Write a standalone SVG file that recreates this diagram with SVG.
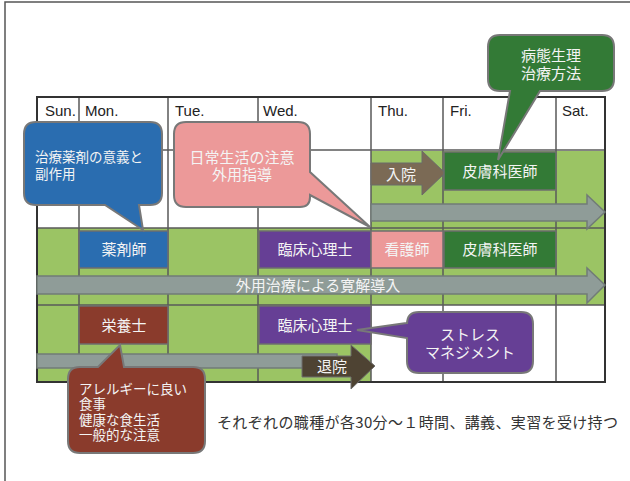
<svg xmlns="http://www.w3.org/2000/svg" width="630" height="481" viewBox="0 0 630 481">
<style>
.hd{font-family:"Liberation Sans",Arial,sans-serif;font-size:15px;fill:#222}
.jt{font-family:"Noto Sans CJK JP","Noto Sans",sans-serif;fill:#f4f4f4}
.c{text-anchor:middle}
.grid{stroke:#5a5a5a;stroke-width:1.5;fill:none}
.box{stroke:#6e6e6e;stroke-width:1.5}
.co{stroke:#787878;stroke-width:2}
.garr{fill:#8f9c98;stroke:#717b77;stroke-width:1.5}
</style>
<rect x="0" y="0" width="630" height="481" fill="#ffffff"/>
<path d="M5,481 V2 H630" fill="none" stroke="#555" stroke-width="1.5"/>

<g id="table">
<rect x="37" y="97" width="568" height="285" fill="#ffffff"/>
<rect x="371" y="151" width="234" height="77" fill="#9bc464"/>
<rect x="37" y="228" width="568" height="77" fill="#9bc464"/>
<rect x="37" y="305" width="334" height="77" fill="#9bc464"/>
<path class="grid" d="M79,97 V382 M168,97 V382 M258,97 V382 M371,97 V382 M443,97 V382 M556,97 V382 M37,150 H605 M37,228 H605 M37,305 H605"/>
<rect x="37" y="97" width="568" height="285" fill="none" stroke="#333" stroke-width="2"/>
<text class="hd" x="45" y="116">Sun.</text>
<text class="hd" x="85" y="116">Mon.</text>
<text class="hd" x="175" y="116">Tue.</text>
<text class="hd" x="263" y="116">Wed.</text>
<text class="hd" x="378" y="116">Thu.</text>
<text class="hd" x="450" y="116">Fri.</text>
<text class="hd" x="562" y="116">Sat.</text>
</g>

<g id="arrows">
<path class="garr" d="M371,204 H587 V195 L605,212 L587,229 V221 H371 Z"/>
<path class="garr" d="M37,276 H587 V268 L605,285 L587,303 V294 H37 Z"/>
<text class="jt c" x="318" y="291" font-size="15">外用治療による寛解導入</text>
<rect class="garr" x="37" y="354" width="300" height="14"/>
</g>

<g id="nyuin">
<path d="M371,163 H422 V151 L445,173 L422,195 V185 H371 Z" fill="#7b6a55" stroke="#6a6a6a" stroke-width="1"/>
<text class="jt c" x="401" y="180" font-size="15">入院</text>
</g>
<g id="taiin">
<path d="M302,356 H351 V345 L375,366 L351,389 V377 H302 Z" fill="#4e4333" stroke="#6f6f6f" stroke-width="1"/>
<text class="jt c" x="332" y="372" font-size="15">退院</text>
</g>

<g id="hifuka1">
<rect class="box" x="444" y="152" width="112" height="38" fill="#337a36"/>
<text class="jt c" x="500" y="177" font-size="15">皮膚科医師</text>
</g>
<g id="yakuzaishi">
<rect class="box" x="79" y="231" width="89" height="37" fill="#2a6db0"/>
<text class="jt c" x="124" y="255" font-size="15">薬剤師</text>
</g>
<g id="rinsho1">
<rect class="box" x="259" y="231" width="112" height="37" fill="#663f95"/>
<text class="jt c" x="315" y="255" font-size="15">臨床心理士</text>
</g>
<g id="kangoshi">
<rect class="box" x="371" y="231" width="72" height="37" fill="#ec9999"/>
<text class="jt c" x="407" y="255" font-size="15">看護師</text>
</g>
<g id="hifuka2">
<rect class="box" x="444" y="231" width="112" height="37" fill="#337a36"/>
<text class="jt c" x="500" y="255" font-size="15">皮膚科医師</text>
</g>
<g id="eiyoshi">
<rect class="box" x="79" y="306" width="89" height="38" fill="#8a3b2c"/>
<text class="jt c" x="124" y="331" font-size="15">栄養士</text>
</g>
<g id="rinsho2">
<rect class="box" x="259" y="306" width="112" height="38" fill="#663f95"/>
<text class="jt c" x="315" y="331" font-size="15">臨床心理士</text>
</g>

<g id="callout-yakuzai">
<path class="co" fill="#2a6db0" d="M36,122 H150 Q162,122 162,134 V193 Q162,205 150,205 H139 L143,230 L105,205 H36 Q24,205 24,193 V134 Q24,122 36,122 Z"/>
<text class="jt" font-size="13.5"><tspan x="35" y="162">治療薬剤の意義と</tspan><tspan x="35" y="179">副作用</tspan></text>
</g>
<g id="callout-nichijo">
<path class="co" fill="#ec9999" d="M186,122 H298 Q310,122 310,134 V172 L370,227 L310,195 V197 Q310,207 300,207 H186 Q174,207 174,195 V134 Q174,122 186,122 Z"/>
<text class="jt c" font-size="15"><tspan x="242" y="163">日常生活の注意</tspan><tspan x="242" y="180">外用指導</tspan></text>
</g>
<g id="callout-byotai">
<path class="co" fill="#337a36" d="M500,35 H602 Q614,35 614,47 V79 Q614,91 602,91 H540 L498,160 L510,91 H500 Q488,91 488,79 V47 Q488,35 500,35 Z"/>
<text class="jt c" font-size="15"><tspan x="551" y="61">病態生理</tspan><tspan x="551" y="79">治療方法</tspan></text>
</g>
<g id="callout-stress">
<path class="co" fill="#663f95" d="M419,312 H521 Q533,312 533,324 V361 Q533,373 521,373 H419 Q407,373 407,361 V338 L357,330 L407,323 V324 Q407,312 419,312 Z"/>
<text class="jt c" font-size="15"><tspan x="470" y="340">ストレス</tspan><tspan x="470" y="358">マネジメント</tspan></text>
</g>
<g id="callout-eiyo">
<path class="co" fill="#8a3b2c" d="M80,367 H98 L120,345 L124,367 H193 Q205,367 205,379 V441 Q205,453 193,453 H80 Q68,453 68,441 V379 Q68,367 80,367 Z"/>
<text class="jt" font-size="13.5"><tspan x="79" y="394">アレルギーに良い</tspan><tspan x="79" y="409">食事</tspan><tspan x="79" y="425">健康な食生活</tspan><tspan x="79" y="440">一般的な注意</tspan></text>
</g>

<g id="note">
<text x="217" y="428" font-family="Noto Sans CJK JP,Noto Sans,sans-serif" font-size="15" fill="#333" textLength="401">それぞれの職種が各30分～１時間、講義、実習を受け持つ</text>
</g>
</svg>
